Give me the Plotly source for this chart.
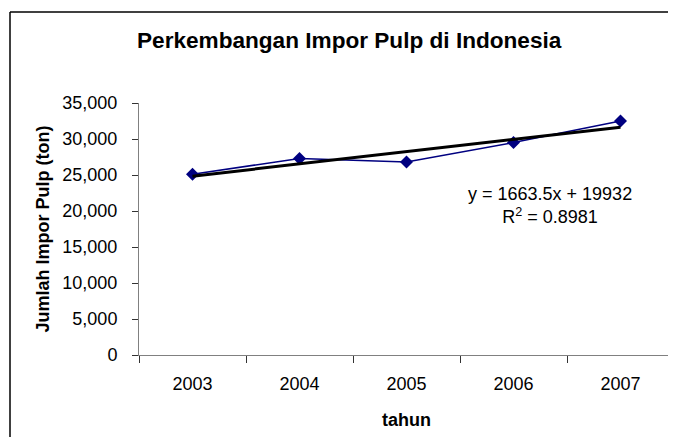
import numpy as np
import plotly.graph_objects as go

years = ["2003", "2004", "2005", "2006", "2007"]
impor = [25100, 27300, 26800, 29500, 32500]
y_ticks = [0, 5000, 10000, 15000, 20000, 25000, 30000, 35000]
title_text = "Perkembangan Impor Pulp di Indonesia"
eq_text = "y = 1663.5x + 19932<br>R<sup>2</sup> = 0.8981"

idx = np.arange(1, len(years) + 1)
slope, intercept = np.polyfit(idx, impor, 1)
trend = slope * idx + intercept

FONT = "Liberation Sans, Arial, sans-serif"

fig = go.Figure()
fig.add_trace(go.Scatter(
    x=years, y=impor, mode="lines+markers",
    line=dict(color="#000080", width=1.5),
    marker=dict(symbol="diamond", size=10, color="#000080"),
    showlegend=False, hoverinfo="skip"))
fig.add_trace(go.Scatter(
    x=years, y=trend, mode="lines",
    line=dict(color="black", width=3),
    showlegend=False, hoverinfo="skip"))

# page body has an 8px margin; figure sized so the page does not scroll
OFF = 8
W, H = 676 - OFF, 445 - 2 * OFF
L, R, T = 139 - OFF, 2, 103 - OFF
B = H - (355 - OFF)
pw, ph = W - L - R, H - T - B

def px_x(p):  # window pixel -> paper x
    return (p - OFF - L) / pw

def px_y(p):  # window pixel -> paper y
    return (H - B - (p - OFF)) / ph

bx0, by1 = px_x(10), px_y(12)
frame = dict(xref="paper", yref="paper", type="line",
             line=dict(color="black", width=1.5), layer="below")

fig.update_layout(
    width=W, height=H,
    margin=dict(l=L, r=R, t=T, b=B, pad=0),
    paper_bgcolor="white", plot_bgcolor="white",
    font=dict(family=FONT, size=18, color="black"),
    xaxis=dict(
        type="category", showgrid=False, zeroline=False,
        showline=True, linecolor="#808080", linewidth=1,
        ticks="outside", ticklen=7, tickcolor="#333333",
        tickson="boundaries", tickfont=dict(size=18),
        ticklabelstandoff=12, range=[-0.5, 4.5]),
    yaxis=dict(
        range=[0, 35000], tickvals=y_ticks, tickformat=",",
        showgrid=False, zeroline=False,
        showline=True, linecolor="#808080", linewidth=1,
        ticks="outside", ticklen=6, tickcolor="#333333",
        tickfont=dict(size=18), ticklabelstandoff=11),
    shapes=[
        dict(frame, x0=bx0, x1=bx0, y0=-0.8, y1=by1),
        dict(frame, x0=bx0, x1=px_x(690), y0=by1, y1=by1),
    ],
    annotations=[
        dict(text="<b>" + title_text + "</b>", xref="paper", yref="paper",
             x=px_x(349), y=px_y(40), xanchor="center", yanchor="middle",
             showarrow=False, font=dict(size=22.6)),
        dict(text="<b>Jumlah Impor Pulp (ton)</b>", xref="paper", yref="paper",
             x=px_x(42.5), y=0.5, xanchor="center", yanchor="middle",
             textangle=-90, showarrow=False, font=dict(size=18)),
        dict(text="<b>tahun</b>", xref="paper", yref="paper",
             x=0.5, y=px_y(420), xanchor="center", yanchor="middle",
             showarrow=False, font=dict(size=18)),
        dict(text=eq_text, xref="paper", yref="paper",
             x=px_x(550), y=px_y(205), xanchor="center", yanchor="middle",
             align="center", showarrow=False, font=dict(size=18)),
    ],
)

fig.write_html("out.html")
